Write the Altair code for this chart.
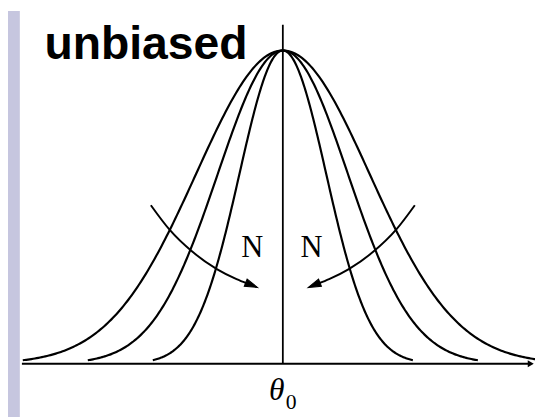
import altair as alt
import numpy as np
import pandas as pd

# ---- data (units: x in inner-sigma units, y relative to peak) ----
sigmas = [1.0, 1.5, 2.0]          # three sampling distributions, same centre theta0
peak = 1.0
truncate = 3.0                     # curves drawn out to +-3 sigma
arrow_u = [-3.045, -2.614, -2.091, -1.523, -1.068, -0.820]
arrow_v = [0.506, 0.428, 0.358, 0.302, 0.270, 0.256]
n_text = ["N", "N"]
n_u = [-0.705, 0.659]
n_v = [0.340, 0.340]
title_text = ["unbiased"]
title_u = [-5.5]
title_v = [0.972]
theta_text = ["θ"]
theta_u = [-0.14]
theta_v = [-0.116]
sub_text = ["0"]
sub_u = [0.19]
sub_v = [-0.145]
axis_u = [-6.02, 5.72]
vline_top = 1.082

# ---- tables ----
rows = []
for i, s in enumerate(sigmas):
    xs = np.linspace(-truncate * s, truncate * s, 301)
    for j, x in enumerate(xs):
        rows.append({"curve": i, "idx": j, "u": float(x),
                     "v": float(peak * np.exp(-x ** 2 / (2 * s ** 2)))})
curves = pd.DataFrame(rows)

arr = []
for side, sgn in [("L", 1), ("R", -1)]:
    for j, (a, b) in enumerate(zip(arrow_u, arrow_v)):
        arr.append({"side": side, "idx": j, "u": sgn * a, "v": b})
arrows = pd.DataFrame(arr)
heads = pd.DataFrame({"u": [arrow_u[-1] + 0.1, -arrow_u[-1] - 0.1],
                      "v": [arrow_v[-1] - 0.005, arrow_v[-1] - 0.005],
                      "ang": [112, 248]})

X = lambda f="u": alt.X(f"{f}:Q", scale=alt.Scale(domain=[-6.341, 5.818], nice=False, zero=False), axis=None)
Y = lambda f="v": alt.Y(f"{f}:Q", scale=alt.Scale(domain=[-0.1698, 1.1258], nice=False, zero=False), axis=None)

band = alt.Chart(pd.DataFrame({"a": [0]})).mark_rect(color="#c6c6df").encode(
    x=alt.value(0), x2=alt.value(12), y=alt.value(0), y2=alt.value(412))

curve_layer = alt.Chart(curves).mark_line(color="black", strokeWidth=2.2, clip=True).encode(
    x=X(), y=Y(), detail="curve:N", order="idx:Q")

base_df = pd.DataFrame({"u": [axis_u[0]], "u2": [axis_u[1]], "v": [0.0]})
baseline = alt.Chart(base_df).mark_rule(color="black", strokeWidth=2).encode(
    x=X(), x2="u2:Q", y=Y())
base_head = alt.Chart(pd.DataFrame({"u": [axis_u[1]], "v": [0.0]})).mark_point(
    shape="triangle-right", filled=True, color="black", size=50, opacity=1).encode(x=X(), y=Y())

vdf = pd.DataFrame({"u": [0.0], "v": [0.0], "v2": [vline_top]})
vline = alt.Chart(vdf).mark_rule(color="black", strokeWidth=1.8).encode(
    x=X(), y=Y(), y2="v2:Q")

arrow_lines = alt.Chart(arrows).mark_line(color="black", strokeWidth=2, interpolate="monotone").encode(
    x=X(), y=Y(), detail="side:N", order="idx:Q")
arrow_heads = alt.Chart(heads).mark_point(shape="M0,-1L0.6,1L-0.6,1Z", filled=True,
                                          fill="black", stroke="black", strokeWidth=1,
                                          size=170, opacity=1).encode(
    x=X(), y=Y(), angle=alt.Angle("ang:Q", scale=None))

ndf = pd.DataFrame({"t": n_text, "u": n_u, "v": n_v})
n_layer = alt.Chart(ndf).mark_text(font="Liberation Serif", fontSize=31, color="black",
                                   align="center", baseline="alphabetic").encode(
    x=X(), y=Y(), text="t:N")

tdf = pd.DataFrame({"t": title_text, "u": title_u, "v": title_v})
title_layer = alt.Chart(tdf).mark_text(font="Liberation Sans", fontSize=47, fontWeight="bold",
                                       color="black", align="left", baseline="alphabetic").encode(
    x=X(), y=Y(), text="t:N")

thdf = pd.DataFrame({"t": theta_text, "u": theta_u, "v": theta_v})
theta_layer = alt.Chart(thdf).mark_text(font="Liberation Serif", fontSize=32, fontStyle="italic",
                                        color="black", align="center", baseline="alphabetic").encode(
    x=X(), y=Y(), text="t:N")
sdf = pd.DataFrame({"t": sub_text, "u": sub_u, "v": sub_v})
sub_layer = alt.Chart(sdf).mark_text(font="Liberation Serif", fontSize=22,
                                     color="black", align="center", baseline="alphabetic").encode(
    x=X(), y=Y(), text="t:N")

chart = alt.layer(band, curve_layer, baseline, base_head, vline, arrow_lines, arrow_heads,
                  n_layer, title_layer, theta_layer, sub_layer).properties(
    width=535, height=412, autosize=alt.AutoSizeParams(type="none"), padding=0,
    background="white").configure_view(stroke=None)

chart.save("out.html", embed_options={"renderer": "svg", "actions": False})
